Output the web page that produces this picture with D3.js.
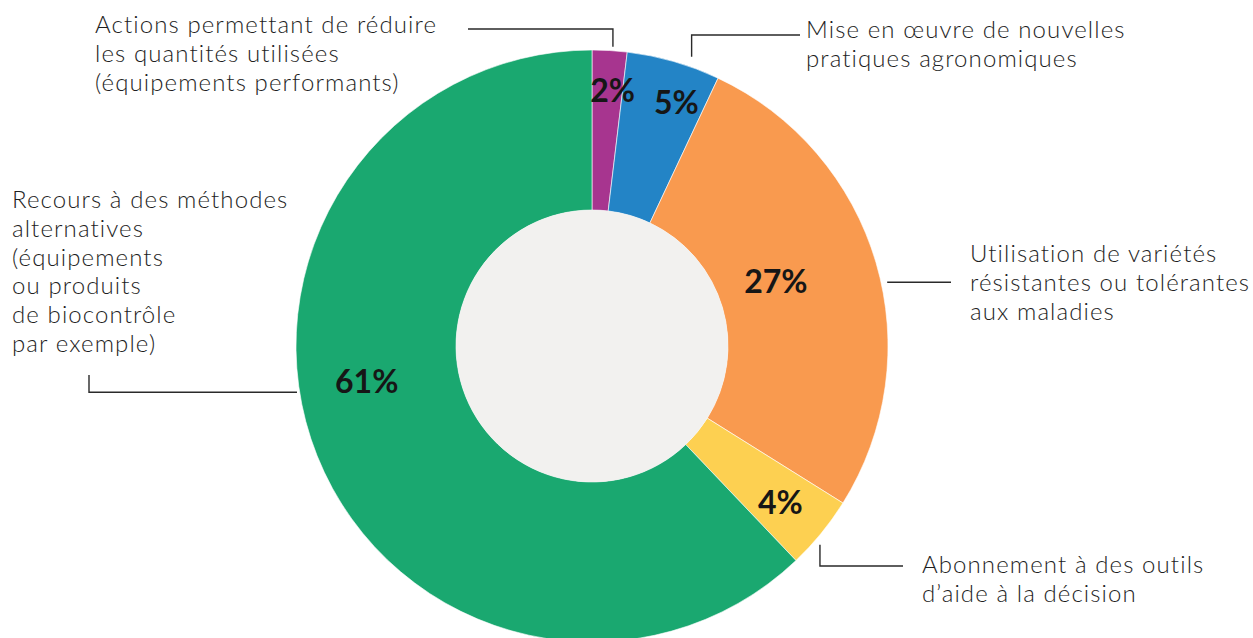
<!DOCTYPE html>
<html>
<head>
<meta charset="utf-8">
<script src="https://cdn.jsdelivr.net/npm/d3@7"></script>
<style>
  html, body { margin: 0; padding: 0; background: #fff; }
  #chart { width: 1253px; height: 638px; }
  text { font-family: Lato, "Noto Sans", sans-serif; }
</style>
</head>
<body>
<div id="chart"></div>
<script>
// data (share of answers, %)
const categories = [
  "Actions permettant de réduire les quantités utilisées (équipements performants)",
  "Mise en œuvre de nouvelles pratiques agronomiques",
  "Utilisation de variétés résistantes ou tolérantes aux maladies",
  "Abonnement à des outils d'aide à la décision",
  "Recours à des méthodes alternatives (équipements ou produits de biocontrôle par exemple)"
];
const values = [1.9, 5.1, 26.9, 4.0, 62.1];
const valueLabels = ["2%", "5%", "27%", "4%", "61%"];
const colors = ["#a7358f", "#2384c6", "#f99a4f", "#fdd051", "#1aa870"];

// label text as shown, line by line
const labelLines = [
  ["Actions permettant de réduire", "les quantités utilisées", "(équipements performants)"],
  ["Mise en œuvre de nouvelles", "pratiques agronomiques"],
  ["Utilisation de variétés", "résistantes ou tolérantes", "aux maladies"],
  ["Abonnement à des outils", "d\u2019aide à la décision"],
  ["Recours à des méthodes", "alternatives", "(équipements", "ou produits", "de biocontrôle", "par exemple)"]
];

// layout (not data): angle in degrees for the % label and the leader anchor
const labelAngle = [4.6, 19, 70.5, 129.5, 261.2];
const labelRadius = [257, 259, 195, 244, 228];
const leaderAngle = [4.0, 19, 77.8, 131.1, 261.1];
const leaderRadius = [300, 306, 302, 302.5, 298.6];

const width = 1253, height = 638;
const cx = 592, cy = 346;
const outerR = 296, innerR = 136;

const svg = d3.select("#chart").append("svg")
  .attr("width", width)
  .attr("height", height);

const g = svg.append("g").attr("transform", `translate(${cx},${cy})`);

const pie = d3.pie().sort(null).value(d => d)(values);
const arc = d3.arc().innerRadius(innerR).outerRadius(outerR);

g.selectAll("path")
  .data(pie)
  .join("path")
    .attr("d", arc)
    .attr("fill", (d, i) => colors[i])
    .attr("stroke", "#fff")
    .attr("stroke-width", 0.6);

// grey hole
g.append("circle")
  .attr("r", innerR)
  .attr("fill", "#f2f1ef");

const polar = (deg, r) => {
  const a = deg * Math.PI / 180;
  return [r * Math.sin(a), -r * Math.cos(a)];
};

// percentage labels
g.selectAll("text.pct")
  .data(pie)
  .join("text")
    .attr("class", "pct")
    .attr("x", (d, i) => polar(labelAngle[i], labelRadius[i])[0])
    .attr("y", (d, i) => polar(labelAngle[i], labelRadius[i])[1])
    .attr("text-anchor", "middle")
    .attr("dominant-baseline", "central")
    .attr("font-size", 32)
    .attr("font-weight", 700)
    .attr("fill", "#161616")
    .text((d, i) => valueLabels[i]);

// leader lines: start at the ring, then elbow to the text (page coords)
const leaderRest = [
  p => [[p[0], 29], [468, 29]],
  p => [[p[0], 35], [800, 35]],
  p => [[951, p[1]]],
  p => [[p[0], 566], [903, 566]],
  p => [[89, p[1]], [89, 375]]
];

const line = d3.line();
svg.append("g")
  .selectAll("path")
  .data(pie)
  .join("path")
    .attr("fill", "none")
    .attr("stroke", "#2a2a2a")
    .attr("stroke-width", 1.4)
    .attr("d", (d, i) => {
      const q = polar(leaderAngle[i], leaderRadius[i]);
      const p = [cx + q[0], cy + q[1]];
      return line([p, ...leaderRest[i](p)]);
    });

// category text blocks
const textPos = [
  { x: 95, y: 33 },
  { x: 806, y: 38 },
  { x: 970, y: 262 },
  { x: 922, y: 573 },
  { x: 12, y: 208 }
];
const lineH = 28.8;

const blocks = svg.append("g")
  .selectAll("text")
  .data(labelLines)
  .join("text")
    .attr("x", (d, i) => textPos[i].x)
    .attr("y", (d, i) => textPos[i].y)
    .attr("font-size", 24)
    .attr("font-weight", 300)
    .attr("letter-spacing", 1.1)
    .attr("fill", "#1e1e1e");

blocks.selectAll("tspan")
  .data((d, i) => d.map(t => ({ t, i })))
  .join("tspan")
    .attr("x", d => textPos[d.i].x)
    .attr("dy", (d, j) => j === 0 ? 0 : lineH)
    .text(d => d.t);
</script>
</body>
</html>
